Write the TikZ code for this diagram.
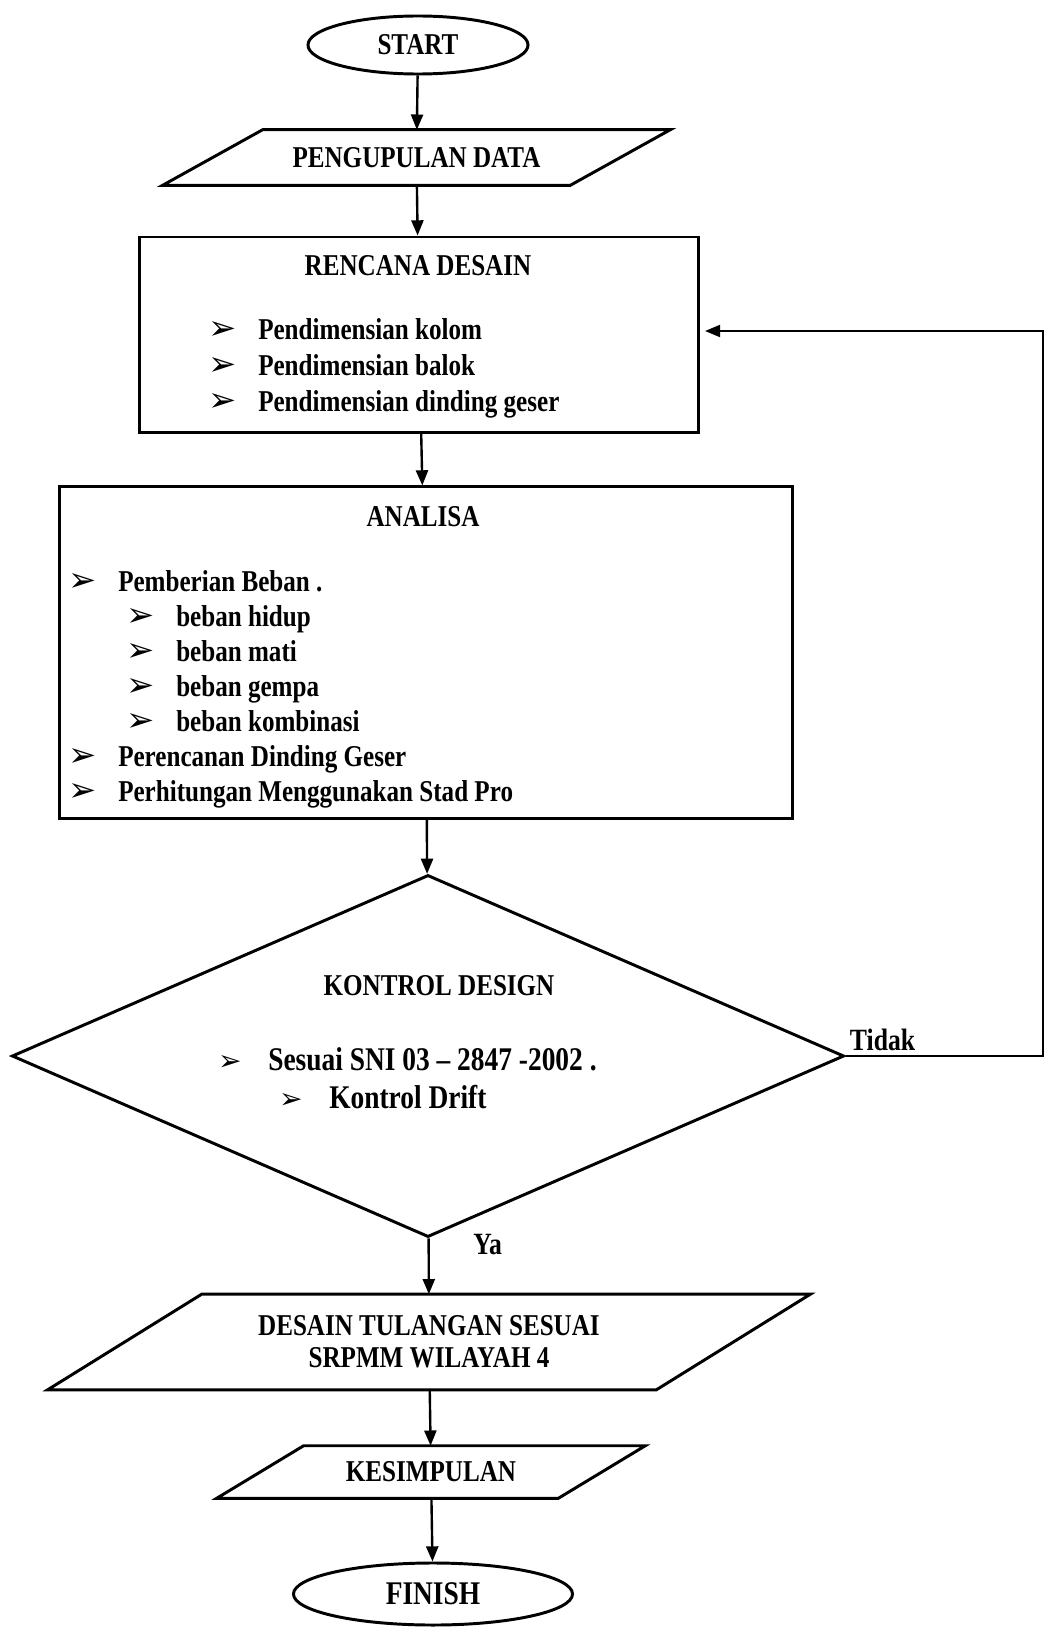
\documentclass[tikz,border=0pt]{standalone}
\usepackage{fontspec}
\setmainfont{Liberation Serif}[FakeStretch=0.83]
\newfontfamily\dingfont{DejaVu Sans}
\usepackage{tikz}
\usetikzlibrary{arrows.meta,shapes.geometric,calc}
\newcommand{\blt}[1][24]{\makebox[32.7pt][l]{\hspace{-3pt}\dingfont\mdseries\fontsize{#1}{#1}\selectfont ➢}}
% slanted outline round an io node
\newcommand{\ioframe}[2]{\draw[ioline] ($(#1.north west)+(#2,0)$) -- ($(#1.north east)+(#2,0)$) -- ($(#1.south east)-(#2,0)$) -- ($(#1.south west)-(#2,0)$) -- cycle;}

\begin{document}
\begin{tikzpicture}[
    x=0.025cm, y=-0.025cm,
    font=\bfseries\fontsize{21.5}{25}\selectfont,
    terminal/.style={draw,ellipse,line width=2.1pt,inner sep=0pt},
    io/.style={rectangle,inner sep=0pt,align=center},
    ioline/.style={draw,line width=2.1pt,line join=miter},
    box/.style={draw,rectangle,line width=2.1pt,inner sep=0pt},
    decision/.style={draw,diamond,line width=2.1pt,inner sep=0pt},
    item/.style={anchor=base west,inner sep=0pt},
    link/.style={-{Triangle[length=0.38cm,width=0.3cm]},line width=1.7pt}
  ]
  \useasboundingbox (0,0) rectangle (1052,1630);

  \node[terminal,minimum width=5.5cm,minimum height=1.45cm] (start) at (418,45) {START};
  \node[io,minimum width=10.175cm,minimum height=1.375cm] (data) at (416.5,157.5) {PENGUPULAN DATA};
  \ioframe{data}{50}

  % rencana desain
  \node[box,minimum width=13.95cm,minimum height=4.875cm] (rencana) at (419,334.5) {};
  \node (rtitle) at (418,266) {RENCANA DESAIN};
  \node[item] (r1) at (212,339) {\blt Pendimensian kolom};
  \node[item] (r2) at (212,375) {\blt Pendimensian balok};
  \node[item] (r3) at (212,411) {\blt Pendimensian dinding geser};

  % analisa
  \node[box,minimum width=18.3cm,minimum height=8.275cm] (analisa) at (426,652.5) {};
  \node (atitle) at (423,517) {ANALISA};
  \node[item] (a1) at (72,591) {\blt Pemberian Beban .};
  \node[item] (a2) at (130,626) {\blt beban hidup};
  \node[item] (a3) at (130,661) {\blt beban mati};
  \node[item] (a4) at (130,696) {\blt beban gempa};
  \node[item] (a5) at (130,731) {\blt beban kombinasi};
  \node[item] (a6) at (72,766) {\blt Perencanan Dinding Geser};
  \node[item] (a7) at (72,801) {\blt Perhitungan Menggunakan Stad Pro};

  % kontrol
  \node[decision,minimum width=20.8cm,minimum height=9.05cm] (kontrol) at (428,1056) {};
  \node (ktitle) at (439,986) {KONTROL DESIGN};
  \node[item,font=\bfseries\fontsize{23.5}{27}\selectfont] (k1) at (222,1070) {\blt[20]Sesuai SNI 03 -- 2847 -2002 .};
  \node[item,font=\bfseries\fontsize{23.5}{27}\selectfont] (k2) at (283,1108) {\blt[20]Kontrol Drift};

  \node[io,minimum width=15.2cm,minimum height=2.375cm,font=\bfseries\fontsize{21.5}{22.5}\selectfont] (tulangan) at (429,1342) {DESAIN TULANGAN SESUAI\\SRPMM WILAYAH 4};
  \ioframe{tulangan}{77}
  \node[io,minimum width=8.525cm,minimum height=1.3cm] (kesimpulan) at (431,1472) {KESIMPULAN};
  \ioframe{kesimpulan}{43.5}
  \node[terminal,minimum width=6.975cm,minimum height=1.55cm,font=\bfseries\fontsize{23.5}{27}\selectfont] (finish) at (433,1594) {FINISH};

  \node[item,font=\bfseries\fontsize{22}{26}\selectfont] (ya) at (473,1254) {Ya};

  \coordinate (fbend) at (1043,331);
  \coordinate (fbtip) at (705,331);

  \draw[link] (start) -- (data);
  \draw[link] (data) -- (rencana);
  \draw[link] (rencana) -- (analisa);
  \draw[link] (analisa) -- (kontrol);
  \draw[link] (kontrol) -- (tulangan);
  \draw[link] (tulangan) -- (kesimpulan);
  \draw[link] (kesimpulan) -- (finish);
  \draw[link] (kontrol.east) -| node[at start,anchor=base west,inner sep=0pt,xshift=0.08cm,yshift=0.13cm,font=\bfseries\fontsize{22}{26}\selectfont] (tidak) {Tidak} (fbend) -- (fbtip);
\end{tikzpicture}
\end{document}
